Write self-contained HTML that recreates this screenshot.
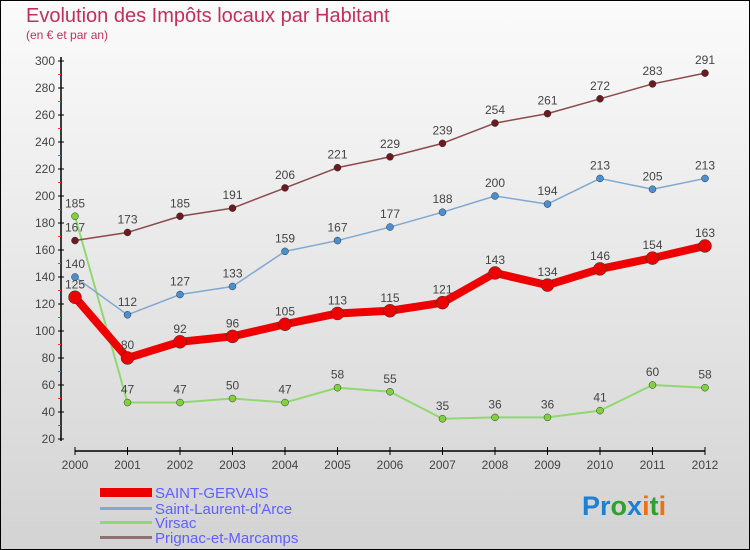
<!DOCTYPE html>
<html><head><meta charset="utf-8"><style>
body{margin:0;width:750px;height:550px;overflow:hidden}
svg{display:block;font-family:"Liberation Sans",sans-serif}
</style></head><body>
<svg id="c" width="750" height="550">
<defs><linearGradient id="bg" x1="0" y1="0" x2="0" y2="1"><stop offset="0" stop-color="#fbfbfb"/><stop offset="1" stop-color="#d3d3d3"/></linearGradient></defs>
<rect x="0.5" y="0.5" width="749" height="549" fill="url(#bg)" stroke="#000"/>
<text x="26" y="22" font-size="20" fill="#c0305a">Evolution des Impôts locaux par Habitant</text>
<text x="26" y="39" font-size="12" fill="#c0305a">(en € et par an)</text>
<g id="axes"></g><g id="series"></g>
<g>
<rect x="100" y="488" width="52" height="9" fill="#e00"/>
<text x="155" y="498" font-size="15" fill="#6060ff">SAINT-GERVAIS</text>
<rect x="100" y="507" width="52" height="3" fill="#80a8d0"/>
<text x="155" y="514" font-size="15" fill="#6060ff">Saint-Laurent-d'Arce</text>
<rect x="100" y="521" width="52" height="3" fill="#90d870"/>
<text x="155" y="528" font-size="15" fill="#6060ff">Virsac</text>
<rect x="100" y="536" width="52" height="3" fill="#907070"/>
<text x="155" y="543" font-size="15" fill="#6060ff">Prignac-et-Marcamps</text>
</g>
<text x="582" y="515" font-size="27" font-weight="bold"><tspan fill="#2080d0">Pr</tspan><tspan fill="#30a030">o</tspan><tspan fill="#2080d0">x</tspan><tspan fill="#f07010">i</tspan><tspan fill="#30a030">t</tspan><tspan fill="#f07010">i</tspan></text>
</svg>
<script>
const years=[2000,2001,2002,2003,2004,2005,2006,2007,2008,2009,2010,2011,2012];
const yTicks=[20,40,60,80,100,120,140,160,180,200,220,240,260,280,300];
const saintGervais=[125,80,92,96,105,113,115,121,143,134,146,154,163];
const saintLaurent=[140,112,127,133,159,167,177,188,200,194,213,205,213];
const virsac=[185,47,47,50,47,58,55,35,36,36,41,60,58];
const prignac=[167,173,185,191,206,221,229,239,254,261,272,283,291];
const NS="http://www.w3.org/2000/svg";
const X=i=>75+i*52.5, Y=v=>439-(v-20)*1.35;
function mk(t,a,p){const e=document.createElementNS(NS,t);for(const k in a)e.setAttribute(k,a[k]);p.appendChild(e);return e;}
const ax=document.getElementById('axes');
let l=mk('line',{x1:61,y1:57,x2:61,y2:441,stroke:'#000','stroke-width':1.5},ax);


l=mk('line',{x1:75,y1:451,x2:705,y2:451,stroke:'#000','stroke-width':1.5},ax);


yTicks.forEach(v=>{mk('line',{x1:58,y1:Y(v),x2:64,y2:Y(v),stroke:'#000'},ax);
if(v<300)mk('line',{x1:58,y1:Y(v+10),x2:61,y2:Y(v+10),stroke:'#f33'},ax);
const t=mk('text',{x:55,y:Y(v)+4,'font-size':12,'text-anchor':'end',fill:'#444'},ax);t.textContent=v;

});
years.forEach((y,i)=>{mk('line',{x1:X(i),y1:447,x2:X(i),y2:455,stroke:'#000'},ax);
const t=mk('text',{x:X(i),y:469,'font-size':12,'text-anchor':'middle',fill:'#444'},ax);t.textContent=y;

});
const sg=document.getElementById('series');
function draw(vals,color,fill,w,r,name){
const g=mk('g',{},sg);


mk('polyline',{points:vals.map((v,i)=>X(i)+','+Y(v)).join(' '),fill:'none',stroke:color,'stroke-width':w,'stroke-linejoin':'round'},g);
vals.forEach((v,i)=>{const c=mk('circle',{cx:X(i),cy:Y(v),r:r,fill:fill,stroke:'#333','stroke-width':0.5},g);


const t=mk('text',{x:X(i),y:Y(v)-9,'font-size':12,'text-anchor':'middle',fill:'#444'},g);t.textContent=v;

});}
draw(virsac,'#90d870','#80d040',2,3.5,'virsac');
draw(prignac,'#8a4a4a','#6a1a20',1.5,3.5,'prignac');
draw(saintLaurent,'#80a8d0','#4a90d0',1.5,3.5,'saint-laurent');
draw(saintGervais,'#ee0000','#ee0000',8,6.5,'saint-gervais');
</script>
</body></html>
